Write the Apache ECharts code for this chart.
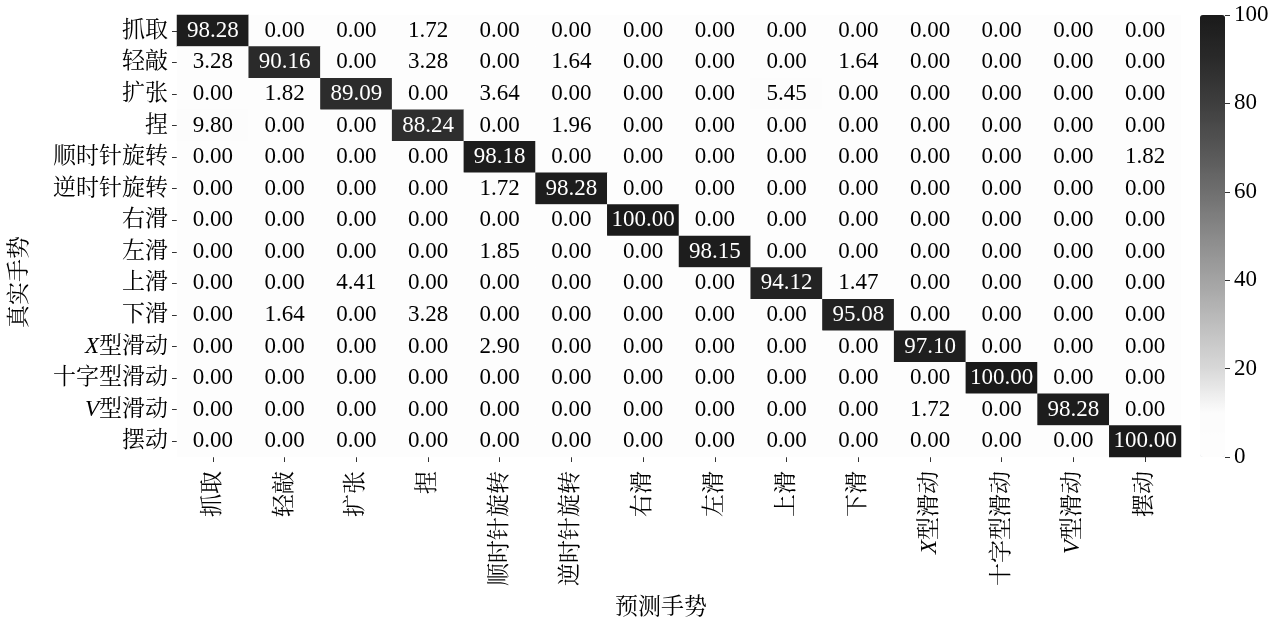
<!DOCTYPE html>
<html>
<head>
<meta charset="utf-8">
<script src="https://cdn.jsdelivr.net/npm/echarts@6/dist/echarts.min.js"></script>
<style>
  html, body { margin: 0; padding: 0; background: #ffffff; }
  #chart { width: 1277px; height: 618px; }
</style>
</head>
<body>
<div id="chart"></div>
<script>
// Gesture classes (rows: true gesture, columns: predicted gesture)
const gestures = ['抓取', '轻敲', '扩张', '捏', '顺时针旋转', '逆时针旋转', '右滑', '左滑',
  '上滑', '下滑', 'X型滑动', '十字型滑动', 'V型滑动', '摆动'];

// Confusion matrix rows, in percent
const row0  = [98.28, 0.00, 0.00, 1.72, 0.00, 0.00, 0.00, 0.00, 0.00, 0.00, 0.00, 0.00, 0.00, 0.00];
const row1  = [3.28, 90.16, 0.00, 3.28, 0.00, 1.64, 0.00, 0.00, 0.00, 1.64, 0.00, 0.00, 0.00, 0.00];
const row2  = [0.00, 1.82, 89.09, 0.00, 3.64, 0.00, 0.00, 0.00, 5.45, 0.00, 0.00, 0.00, 0.00, 0.00];
const row3  = [9.80, 0.00, 0.00, 88.24, 0.00, 1.96, 0.00, 0.00, 0.00, 0.00, 0.00, 0.00, 0.00, 0.00];
const row4  = [0.00, 0.00, 0.00, 0.00, 98.18, 0.00, 0.00, 0.00, 0.00, 0.00, 0.00, 0.00, 0.00, 1.82];
const row5  = [0.00, 0.00, 0.00, 0.00, 1.72, 98.28, 0.00, 0.00, 0.00, 0.00, 0.00, 0.00, 0.00, 0.00];
const row6  = [0.00, 0.00, 0.00, 0.00, 0.00, 0.00, 100.00, 0.00, 0.00, 0.00, 0.00, 0.00, 0.00, 0.00];
const row7  = [0.00, 0.00, 0.00, 0.00, 1.85, 0.00, 0.00, 98.15, 0.00, 0.00, 0.00, 0.00, 0.00, 0.00];
const row8  = [0.00, 0.00, 4.41, 0.00, 0.00, 0.00, 0.00, 0.00, 94.12, 1.47, 0.00, 0.00, 0.00, 0.00];
const row9  = [0.00, 1.64, 0.00, 3.28, 0.00, 0.00, 0.00, 0.00, 0.00, 95.08, 0.00, 0.00, 0.00, 0.00];
const row10 = [0.00, 0.00, 0.00, 0.00, 2.90, 0.00, 0.00, 0.00, 0.00, 0.00, 97.10, 0.00, 0.00, 0.00];
const row11 = [0.00, 0.00, 0.00, 0.00, 0.00, 0.00, 0.00, 0.00, 0.00, 0.00, 0.00, 100.00, 0.00, 0.00];
const row12 = [0.00, 0.00, 0.00, 0.00, 0.00, 0.00, 0.00, 0.00, 0.00, 0.00, 1.72, 0.00, 98.28, 0.00];
const row13 = [0.00, 0.00, 0.00, 0.00, 0.00, 0.00, 0.00, 0.00, 0.00, 0.00, 0.00, 0.00, 0.00, 100.00];
const matrix = [row0, row1, row2, row3, row4, row5, row6, row7, row8, row9, row10, row11, row12, row13];

// Colour bar tick values
const barTicks = [0, 20, 40, 60, 80, 100];

const FONT = "'Liberation Serif', 'Noto Serif CJK SC', 'Noto Sans CJK SC', serif";
const FS = 23;

// Latin prefix of a class name is set in italics
function fmtName(name) {
  const m = name.match(/^([A-Za-z]+)(.*)$/);
  return m ? '{i|' + m[1] + '}' + m[2] : name;
}
const italicRich = { i: { fontStyle: 'italic', fontFamily: FONT, fontSize: FS, color: '#000' } };

const cells = [];
matrix.forEach((row, r) => {
  row.forEach((v, c) => {
    cells.push({ value: [c, r, v], label: { color: v > 50 ? '#ffffff' : '#000000' } });
  });
});

const chart = echarts.init(document.getElementById('chart'), null, { renderer: 'canvas' });
chart.setOption({
  animation: false,
  backgroundColor: '#ffffff',
  textStyle: { fontFamily: FONT },
  grid: [
    { left: 177, right: 96, top: 15, bottom: 161 },
    { left: 1200, width: 25, top: 15, height: 442 }
  ],
  // axis titles
  graphic: [{
    type: 'text',
    left: 615, top: 596,
    style: { text: '预测手势', font: FS + "px " + FONT, fill: '#000' }
  }, {
    type: 'text',
    x: 8, y: 282,
    rotation: Math.PI / 2,
    style: { text: '真实手势', font: FS + "px " + FONT, fill: '#000', align: 'center', verticalAlign: 'top' }
  }],
  xAxis: [{
    type: 'category',
    gridIndex: 0,
    data: gestures,
    position: 'bottom',
    axisLine: { show: false },
    axisTick: { show: true, alignWithLabel: true, length: 5, lineStyle: { color: '#333', width: 1 } },
    axisLabel: {
      rotate: 90, margin: 14, interval: 0,
      fontFamily: FONT, fontSize: FS, color: '#000',
      formatter: fmtName, rich: italicRich
    },
    splitLine: { show: false }
  }, {
    type: 'value', gridIndex: 1, show: false, min: 0, max: 1
  }],
  yAxis: [{
    type: 'category',
    gridIndex: 0,
    data: gestures,
    inverse: true,
    axisLine: { show: false },
    axisTick: { show: true, alignWithLabel: true, length: 5, lineStyle: { color: '#333', width: 1 } },
    axisLabel: {
      margin: 9, interval: 0,
      fontFamily: FONT, fontSize: FS, color: '#000',
      formatter: fmtName, rich: italicRich
    },
    splitLine: { show: false }
  }, {
    type: 'value',
    gridIndex: 1,
    position: 'right',
    min: 0, max: 100, interval: 20,
    axisLine: { show: false, onZero: false },
    axisTick: { show: true, inside: false, length: 5, lineStyle: { color: '#333', width: 1 } },
    axisLabel: {
      margin: 9, fontFamily: FONT, fontSize: FS, color: '#000',
      formatter: v => (barTicks.indexOf(v) >= 0 ? String(v) : '')
    },
    splitLine: { show: false },
    z: 10
  }],
  visualMap: {
    type: 'continuous',
    min: 0, max: 100,
    seriesIndex: 0,
    orient: 'vertical',
    left: 1200, top: 15,
    itemWidth: 25, itemHeight: 442,
    padding: 0,
    calculable: false,
    hoverLink: false,
    text: null,
    showLabel: false,
    indicatorSize: 0,
    inRange: {
      color: ['#fdfdfd', '#fcfcfc', '#d8d8d8', '#bebebe', '#a3a3a3', '#8a8a8a',
        '#6f6f6f', '#555555', '#3e3e3e', '#2a2a2a', '#1a1a1a']
    }
  },
  series: [{
    type: 'heatmap',
    xAxisIndex: 0, yAxisIndex: 0,
    data: cells,
    label: {
      show: true,
      fontFamily: FONT,
      fontSize: FS,
      formatter: p => p.value[2].toFixed(2)
    },
    itemStyle: { borderWidth: 0 },
    emphasis: { disabled: true }
  }, {
    type: 'line', xAxisIndex: 1, yAxisIndex: 1, data: [], silent: true
  }]
});
</script>
</body>
</html>
